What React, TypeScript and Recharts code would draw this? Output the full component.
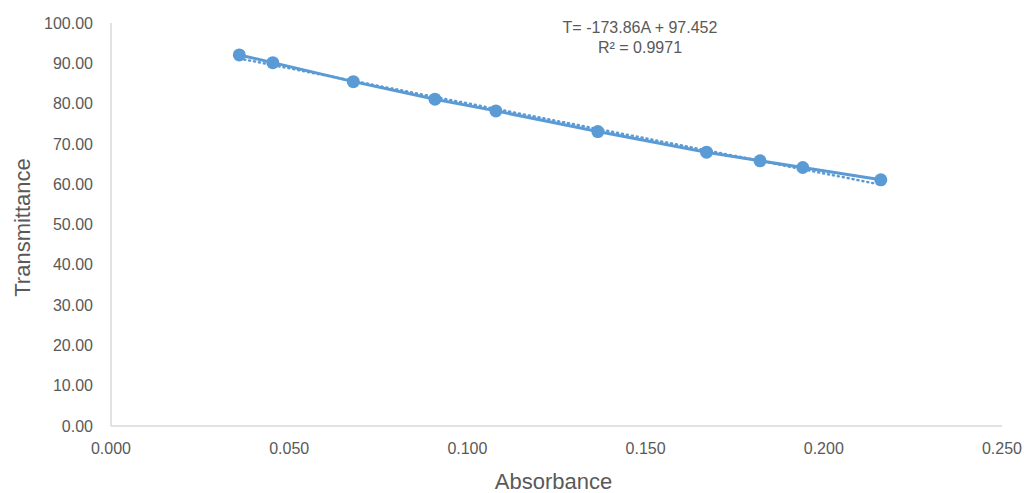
import React from 'react';
import { ComposedChart, Line, XAxis, YAxis } from 'recharts';

const absorbance = [0.036, 0.0454, 0.068, 0.0909, 0.108, 0.1366, 0.1671, 0.1821, 0.1941, 0.216];
const transmittance = [92.07, 90.16, 85.45, 81.09, 78.19, 73.06, 67.95, 65.8, 64.14, 61.09];
const xTicks = [0, 0.05, 0.1, 0.15, 0.2, 0.25];
const yTicks = [0, 10, 20, 30, 40, 50, 60, 70, 80, 90, 100];
const slope = -173.86;
const intercept = 97.452;
const equationText = 'T= -173.86A + 97.452';
const r2Text = 'R² = 0.9971';

const dataPoints = absorbance.map((x, i) => ({ x, y: transmittance[i] }));
const xMin = Math.min(...absorbance);
const xMax = Math.max(...absorbance);
const trendPoints = [xMin, xMax].map((x) => ({ x, y: slope * x + intercept }));

const BLUE = '#5B9BD5';
const GRAY = '#595959';
const FONT = '"Liberation Sans", Arial, sans-serif';

const YTitle = (props: any) => {
  const vb = props.viewBox;
  const cx = 22;
  const cy = vb.y + vb.height / 2 + 3;
  return (
    <text x={cx} y={cy} transform={`rotate(-90, ${cx}, ${cy})`} textAnchor="middle" dominantBaseline="central" fill={GRAY} fontSize={22} fontFamily={FONT}>
      Transmittance
    </text>
  );
};

const XTitle = (props: any) => {
  const vb = props.viewBox;
  const cx = vb.x + vb.width / 2 - 3;
  const cy = 481;
  return (
    <text x={cx} y={cy} textAnchor="middle" dominantBaseline="central" fill={GRAY} fontSize={22} fontFamily={FONT}>
      Absorbance
    </text>
  );
};

export default function App() {
  return (
    <div style={{ position: 'absolute', left: 0, top: 0, width: 1024, height: 493, background: '#fff' }}>
      <ComposedChart width={1024} height={493} margin={{ top: 23, right: 22, bottom: 0, left: 0 }}>
        <XAxis
          type="number"
          dataKey="x"
          domain={[0, 0.25]}
          ticks={xTicks}
          tickFormatter={(v: number) => v.toFixed(3)}
          axisLine={{ stroke: '#D9D9D9', strokeWidth: 1.5 }}
          tickLine={false}
          tickSize={0}
          tickMargin={17}
          height={67}
          tick={{ fill: GRAY, fontSize: 16, fontFamily: FONT }}
          label={<XTitle />}
          allowDataOverflow
        />
        <YAxis
          type="number"
          dataKey="y"
          domain={[0, 100]}
          ticks={yTicks}
          tickFormatter={(v: number) => v.toFixed(2)}
          axisLine={{ stroke: '#D9D9D9', strokeWidth: 1.5 }}
          tickLine={false}
          tickSize={0}
          tickMargin={18}
          width={111}
          tick={{ fill: GRAY, fontSize: 16, fontFamily: FONT }}
          label={<YTitle />}
          allowDataOverflow
        />
        <Line
          data={trendPoints}
          dataKey="y"
          type="linear"
          stroke={BLUE}
          strokeWidth={2.5}
          strokeDasharray="1 4"
          strokeLinecap="round"
          dot={false}
          activeDot={false}
          isAnimationActive={false}
        />
        <Line
          data={dataPoints}
          dataKey="y"
          type="linear"
          stroke={BLUE}
          strokeWidth={3}
          dot={{ r: 6.5, fill: BLUE, stroke: BLUE, strokeWidth: 0 }}
          activeDot={false}
          isAnimationActive={false}
        />
      </ComposedChart>
      <div
        style={{
          position: 'absolute',
          left: 490,
          width: 300,
          top: 18,
          textAlign: 'center',
          fontFamily: FONT,
          fontSize: 16,
          lineHeight: '20px',
          color: GRAY,
        }}
      >
        <div>{equationText}</div>
        <div>{r2Text}</div>
      </div>
    </div>
  );
}
